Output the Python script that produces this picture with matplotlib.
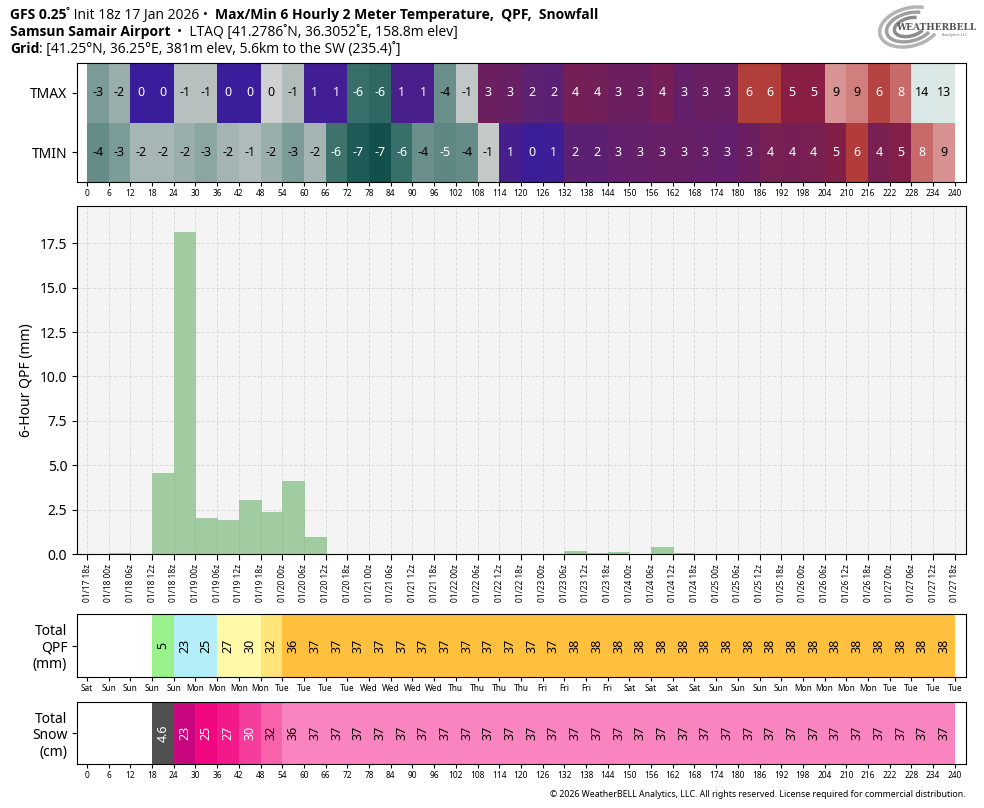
import numpy as np
import pandas as pd
import matplotlib
matplotlib.use("Agg")
import matplotlib.pyplot as plt
from matplotlib import font_manager
from matplotlib.colors import LinearSegmentedColormap, ListedColormap, BoundaryNorm, Normalize
from matplotlib.patches import Arc

plt.rcParams['font.family'] = ['Noto Sans', 'DejaVu Sans']

# ---- data ----
init_time = "2026-01-17 18:00"
hours = np.arange(0, 246, 6)          # 41 tick positions (forecast hour)
cells = hours[:-1]                     # 40 six-hour cells

# 2 m temperature (C), one value per 6 h cell
tmax = [-3.1, -2.2, 0.3, 0.2, -1.1, -1.1, 0.2, 0.2, -0.2, -1.3,
        0.8, 0.8, -5.8, -6.1, 1.2, 1.2, -4.0, -0.7, 3.3, 3.1,
        2.3, 2.1, 4.0, 3.9, 3.3, 3.3, 4.0, 2.8, 3.1, 3.1,
        6.1, 6.1, 5.2, 5.2, 9.4, 8.7, 6.3, 8.0, 14.0, 13.2]
tmin = [-4.3, -3.0, -1.8, -1.8, -2.2, -2.6, -1.9, -1.4, -2.2, -3.0,
        -1.9, -5.7, -6.7, -7.3, -5.8, -4.0, -4.6, -4.3, -0.6, 1.1,
        0.4, 0.6, 2.2, 2.2, 2.7, 2.8, 3.0, 3.0, 2.9, 2.6,
        3.3, 4.2, 4.1, 4.3, 4.8, 6.0, 4.3, 4.9, 8.0, 9.3]

# 6-hour QPF (mm)
qpf_6h = [0, 0.05, 0, 4.57, 18.16, 2.03, 1.92, 3.05, 2.37, 4.12,
          0.96, 0, 0, 0, 0, 0, 0, 0, 0, 0,
          0, 0, 0.18, 0.06, 0.11, 0, 0.4, 0.05, 0, 0,
          0, 0, 0, 0, 0, 0, 0, 0, 0, 0.05]

# accumulated totals as printed in the bottom rows
qpf_total = [0, 0, 0, 5, 23, 25, 27, 30, 32, 36,
             37, 37, 37, 37, 37, 37, 37, 37, 37, 37,
             37, 37, 38, 38, 38, 38, 38, 38, 38, 38,
             38, 38, 38, 38, 38, 38, 38, 38, 38, 38]
snow_total = [0, 0, 0, 4.6, 23, 25, 27, 30, 32, 36,
              37, 37, 37, 37, 37, 37, 37, 37, 37, 37,
              37, 37, 37, 37, 37, 37, 37, 37, 37, 37,
              37, 37, 37, 37, 37, 37, 37, 37, 37, 37]

times = pd.date_range(init_time, periods=len(hours), freq="6h")
date_labels = [t.strftime("%m/%d %Hz") for t in times]
day_labels = [t.strftime("%a") for t in times]

# ---- colour scales ----
temp_anchors = [(-8, "#0b4844"), (-7, "#165450"), (-6, "#326a65"), (-5, "#578480"),
                (-4, "#6b8f8c"), (-3, "#7c9c99"), (-2, "#a1b3b1"), (-1, "#b9c1c0"),
                (-0.01, "#d4d4d4"), (0.0, "#361c9e"), (1, "#441f90"), (2, "#5a2076"),
                (3, "#661f66"), (4, "#751f56"), (5, "#851f46"), (5.49, "#8e2040"),
                (5.5, "#ab3434"), (6, "#b13c3a"), (8, "#c96a6a"), (9, "#d58686"),
                (10, "#dcaaaa"), (12, "#e0d8d8"), (13, "#dce7e5"), (15, "#d5e8e6")]
tlo, thi = -8, 15
temp_cmap = LinearSegmentedColormap.from_list(
    "temp", [((v - tlo) / (thi - tlo), c) for v, c in temp_anchors], N=1024)
temp_norm = Normalize(tlo, thi)

qpf_cmap = ListedColormap(["#98f18a", "#b4eef8", "#fff9a8", "#ffe47a", "#ffc13d"])
qpf_norm = BoundaryNorm([0.5, 12.7, 25.4, 31.75, 34, 60], qpf_cmap.N)
snow_cmap = ListedColormap(["#505050", "#c8077e", "#ef0680", "#f3198b",
                            "#f53d9c", "#f862ab", "#f984c0"])
snow_norm = BoundaryNorm([0.5, 10, 24, 26, 28.5, 31, 34, 60], snow_cmap.N)


# pick a family that really has a bold face installed
def has_bold(fam):
    path = font_manager.findfont(font_manager.FontProperties(family=fam, weight="bold"),
                                 fallback_to_default=False)
    return "bold" in path.lower() and fam.replace(" ", "").lower() in path.replace(" ", "").lower()


head_family = "DejaVu Sans"
for fam in ["Noto Sans", "Open Sans", "Lato", "Roboto"]:
    try:
        if has_bold(fam):
            head_family = fam
            break
    except Exception:
        pass

# ---- figure ----
W, H = 984, 808
fig = plt.figure(figsize=(W / 100, H / 100), dpi=100)
xlo, xhi = -2.77, 243.1
L, R = 77 / W, (966 - 77) / W


def rect(top, bottom):
    return [L, 1 - bottom / H, R, (bottom - top) / H]


# temperature table
ax_t = fig.add_axes(rect(63, 182))
ax_t.pcolormesh(hours, [0, 1, 2], np.array([tmin, tmax]), cmap=temp_cmap, norm=temp_norm)
for row, vals in enumerate([tmin, tmax]):
    for h, v in zip(cells, vals):
        dark = not (-4.5 <= v <= 0 or v >= 8.5)
        ax_t.text(h + 3, row + 0.5, f"{round(v):d}", ha="center", va="center",
                  fontsize=9, color="white" if dark else "black")
ax_t.set_xlim(xlo, xhi)
ax_t.set_ylim(0, 2)
ax_t.set_yticks([0.5, 1.5])
ax_t.set_yticklabels(["TMIN", "TMAX"], fontsize=10)
ax_t.set_xticks(hours)
ax_t.set_xticklabels([str(h) for h in hours], fontsize=6)
ax_t.tick_params(axis="x", length=3, pad=2)

# 6-hour QPF bars
ax = fig.add_axes(rect(206, 554))
ax.set_facecolor("#f4f4f4")
ax.grid(True, color="#dcdcdc", linestyle="--", linewidth=0.7)
ax.set_axisbelow(True)
ax.bar(cells, qpf_6h, width=6, align="edge", color="#a1cba0",
       edgecolor="#93c193", linewidth=0.5)
ax.set_xlim(xlo, xhi)
ax.set_ylim(0, 19.6)
ax.set_yticks(np.arange(0, 18, 2.5))
ax.set_yticklabels([f"{v:.1f}" for v in np.arange(0, 18, 2.5)], fontsize=10)
ax.set_ylabel("6-Hour QPF (mm)", fontsize=10)
ax.set_xticks(hours)
ax.set_xticklabels(date_labels, rotation=90, fontsize=6)
ax.tick_params(axis="x", length=4, pad=3)

# accumulated QPF row
ax_q = fig.add_axes(rect(614, 677))
ax_q.pcolormesh(hours, [0, 1], np.ma.masked_less([qpf_total], 0.5), cmap=qpf_cmap, norm=qpf_norm)
for h, v in zip(cells, qpf_total):
    if v >= 0.5:
        ax_q.text(h + 3, 0.5, f"{round(v):d}", rotation=90, ha="center", va="center",
                  fontsize=9, color="black")
ax_q.set_xlim(xlo, xhi)
ax_q.set_ylim(0, 1)
ax_q.set_yticks([0.5])
ax_q.set_yticklabels(["Total\nQPF\n(mm)"], fontsize=10, ha="right", linespacing=1.15)
ax_q.set_xticks(hours)
ax_q.set_xticklabels(day_labels, fontsize=6)
ax_q.tick_params(axis="x", length=3, pad=2)

# accumulated snow row
ax_s = fig.add_axes(rect(702, 764))
ax_s.pcolormesh(hours, [0, 1], np.ma.masked_less([snow_total], 0.5), cmap=snow_cmap, norm=snow_norm)
for h, v in zip(cells, snow_total):
    if v >= 0.5:
        txt = f"{v:.1f}" if v < 10 else f"{round(v):d}"
        ax_s.text(h + 3, 0.5, txt, rotation=90, ha="center", va="center",
                  fontsize=9, color="white" if v < 31 else "black")
ax_s.set_xlim(xlo, xhi)
ax_s.set_ylim(0, 1)
ax_s.set_yticks([0.5])
ax_s.set_yticklabels(["Total\nSnow\n(cm)"], fontsize=10, ha="right", linespacing=1.15)
ax_s.set_xticks(hours)
ax_s.set_xticklabels([str(h) for h in hours], fontsize=6)
ax_s.tick_params(axis="x", length=3, pad=2)

# ---- header, built piece by piece ----
renderer = fig.canvas.get_renderer()
space = 3.2


def header_line(y, parts):
    x = 10
    for s, bold in parts:
        lead = len(s) - len(s.lstrip(" "))
        trail = len(s) - len(s.rstrip(" "))
        x += lead * space
        t = fig.text(x / W, 1 - y / H, s.strip(" "), fontsize=10, family=head_family,
                     fontweight="bold" if bold else "normal", va="baseline", ha="left")
        x = t.get_window_extent(renderer).x1 + trail * space


header_line(19, [("GFS 0.25", True), ("˚ Init 18z 17 Jan 2026 •  ", False),
                 ("Max/Min 6 Hourly 2 Meter Temperature,  QPF,  Snowfall", True)])
header_line(36, [("Samsun Samair Airport", True),
                 ("  •  LTAQ [41.2786˚N, 36.3052˚E, 158.8m elev]", False)])
header_line(53, [("Grid", True),
                 (": [41.25°N, 36.25°E, 381m elev, 5.6km to the SW (235.4)˚]", False)])

# logo
lax = fig.add_axes([868 / W, 1 - 50 / H, 112 / W, 46 / H])
lax.set_xlim(0, 112)
lax.set_ylim(0, 46)
lax.axis("off")
for wd, ht, lw, col in [(62, 38, 2.5, "#b4b4b4"), (48, 28, 2.5, "#a0a0a0"), (32, 18, 2.5, "#8c8c8c")]:
    lax.add_patch(Arc((42, 23), wd, ht, angle=15, theta1=40, theta2=330, color=col, lw=lw))
lax.text(28, 23, "WEATHERBELL", fontsize=6.5, family="DejaVu Serif", color="#555555",
         va="center", ha="left", fontweight="bold")
lax.text(100, 15, "Analytics LLC", fontsize=3, color="#777777", ha="right", va="center")

fig.text(966 / W, 1 - 797 / H,
         "© 2026 WeatherBELL Analytics, LLC. All rights reserved. License required for commercial distribution.",
         fontsize=6.3, ha="right", va="baseline")

fig.savefig("out.png", dpi=100)
